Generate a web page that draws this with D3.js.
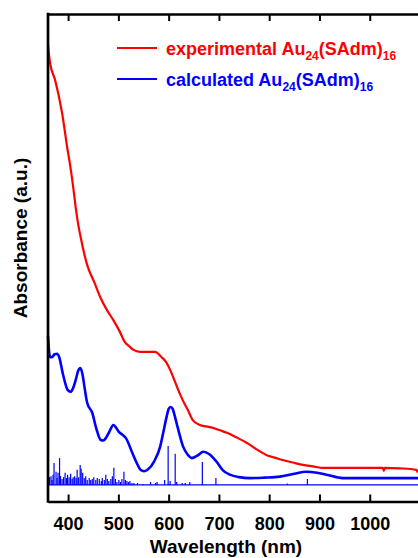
<!DOCTYPE html>
<html>
<head>
<meta charset="utf-8">
<script src="https://cdn.jsdelivr.net/npm/d3@7"></script>
<style>
  body { margin: 0; background: #fff; }
  svg { display: block; }
  text { font-family: "Liberation Sans", Arial, sans-serif; font-weight: bold; }
</style>
</head>
<body>
<svg id="chart"></svg>
<script>
// wavelength (nm) / absorbance (a.u.)
var expWl  = [360, 364, 374, 388, 399, 404, 410, 415, 420, 425, 438, 452, 464, 477, 490, 502, 513, 522, 530, 543, 560, 573, 586, 595, 603, 611, 619, 628, 638, 648, 662, 675, 688, 702, 716, 736, 756, 775, 795, 811, 827, 847, 867, 887, 907, 960, 1026, 1028, 1030, 1060, 1093, 1095, 1100];
var expAbs = [93.6, 90.0, 86.5, 79.7, 72.1, 69.0, 64.6, 60.4, 56.9, 54.2, 48.5, 45.0, 41.9, 39.3, 37.2, 35.0, 32.7, 31.8, 31.1, 30.7, 30.7, 30.7, 29.6, 28.6, 27.0, 25.0, 22.9, 20.8, 18.8, 16.7, 15.7, 15.4, 15.1, 14.6, 14.1, 13.1, 12.0, 10.7, 9.5, 9.0, 8.5, 8.0, 7.5, 7.2, 6.9, 6.9, 6.9, 6.3, 6.9, 6.8, 6.5, 6.1, 6.1];

var calcWl  = [360, 364, 369, 373, 378, 382, 390, 399, 405, 410, 415, 420, 424, 428, 433, 438, 448, 456, 465, 470, 475, 482, 490, 495, 501, 508, 515, 528, 537, 544, 551, 558, 571, 583, 589, 596, 600, 604, 608, 612, 616, 622, 629, 638, 646, 657, 669, 681, 695, 708, 722, 740, 761, 790, 821, 850, 874, 895, 914, 946, 1000, 1100];
var calcAbs = [34.0, 29.6, 29.7, 30.2, 30.3, 29.7, 26.0, 22.9, 22.5, 23.3, 24.9, 26.8, 27.4, 26.4, 23.2, 20.2, 18.2, 15.0, 12.6, 12.5, 13.0, 14.3, 15.7, 15.2, 14.3, 13.7, 13.0, 9.9, 7.8, 6.5, 6.2, 6.5, 8.2, 11.2, 14.0, 17.4, 19.0, 19.4, 19.0, 17.6, 16.0, 13.6, 11.2, 9.6, 8.9, 9.4, 10.2, 9.7, 8.2, 6.4, 5.5, 5.0, 4.8, 4.9, 5.1, 5.7, 6.1, 5.9, 5.5, 4.8, 4.8, 4.8];

// oscillator strength sticks, drawn on a baseline
var stickBase = 3.4;
var stickWl = [363, 366, 368, 370, 372, 376, 378, 380, 383, 385, 388, 391, 394, 397, 399, 402, 405, 408, 410, 413, 416, 418, 421, 424, 426, 429, 432, 435, 438, 442, 445, 448, 451, 455, 458, 462, 466, 468, 472, 475, 478, 481, 485, 488, 491, 494, 497, 501, 504, 507, 511, 514, 517, 520, 523, 527, 531, 538, 549, 564, 574, 577, 592, 599, 603, 613, 616, 627, 633, 642, 667, 694, 836, 876];
var stickH  = [1.6, 1.8, 1.0, 2.1, 4.5, 2.7, 1.4, 2.5, 5.5, 1.8, 1.2, 1.6, 2.5, 1.4, 2.1, 1.6, 2.3, 1.2, 1.6, 1.8, 1.4, 3.1, 1.6, 4.1, 3.3, 2.5, 1.4, 1.8, 1.0, 1.4, 1.0, 1.2, 1.6, 1.0, 1.4, 1.2, 0.8, 1.4, 1.0, 2.1, 1.2, 0.8, 1.2, 1.8, 3.5, 1.2, 0.6, 1.0, 0.6, 1.2, 2.7, 1.0, 0.8, 0.6, 0.8, 0.4, 0.4, 0.4, 0.2, 0.6, 0.4, 0.6, 1.0, 8.0, 0.8, 6.4, 0.6, 0.4, 0.4, 0.6, 4.7, 1.4, 0.3, 1.2];

var xTicks = [400, 500, 600, 700, 800, 900, 1000];
var legendNames = ["experimental", "calculated"];
var legendColors = ["#ff0000", "#0000ff"];

var W = 418, H = 558;
var svg = d3.select("#chart").attr("width", W).attr("height", H);

var x = d3.scaleLinear().domain([360, 1100]).range([48, 420]);
var y = d3.scaleLinear().domain([0, 100]).range([501.5, 14]);

var smooth = d3.line()
    .x(function(d) { return x(d[0]); })
    .y(function(d) { return y(d[1]); })
    .curve(d3.curveMonotoneX);

// sticks + baseline
svg.append("line")
    .attr("x1", x(360)).attr("x2", x(1100))
    .attr("y1", y(stickBase)).attr("y2", y(stickBase))
    .attr("stroke", "#0000ff").attr("stroke-width", 1.2);

svg.append("g").selectAll("line")
    .data(d3.zip(stickWl, stickH))
    .enter().append("line")
    .attr("x1", function(d) { return x(d[0]); })
    .attr("x2", function(d) { return x(d[0]); })
    .attr("y1", y(stickBase))
    .attr("y2", function(d) { return y(stickBase + d[1]); })
    .attr("stroke", "#0000ff")
    .attr("stroke-width", 1.2);

svg.append("path")
    .datum(d3.zip(calcWl, calcAbs))
    .attr("fill", "none")
    .attr("stroke", "#0000ff")
    .attr("stroke-width", 2.6)
    .attr("d", smooth);

svg.append("path")
    .datum(d3.zip(expWl, expAbs))
    .attr("fill", "none")
    .attr("stroke", "#ff0000")
    .attr("stroke-width", 2.2)
    .attr("stroke-linejoin", "round")
    .attr("d", smooth);

// axes (bottom + top, ticks pointing in)
var bottomAxis = svg.append("g")
    .attr("transform", "translate(0," + y(0) + ")")
    .call(d3.axisBottom(x).tickValues(xTicks).tickSizeInner(-7).tickSizeOuter(0).tickPadding(16).tickFormat(d3.format("d")));
var topAxis = svg.append("g")
    .attr("transform", "translate(0," + y(100) + ")")
    .call(d3.axisTop(x).tickValues(xTicks).tickSizeInner(-7).tickSizeOuter(0).tickFormat(""));

[bottomAxis, topAxis].forEach(function(g) {
    g.select(".domain").attr("stroke", "#000").attr("stroke-width", 2.7);
    g.selectAll(".tick line").attr("stroke", "#000").attr("stroke-width", 2);
});
bottomAxis.selectAll(".tick text")
    .attr("fill", "#000")
    .style("font-size", "18px")
    .style("font-family", "'Liberation Sans', Arial, sans-serif")
    .style("font-weight", "bold");

svg.append("line")
    .attr("x1", x(360)).attr("x2", x(360))
    .attr("y1", y(100) - 1.3).attr("y2", y(0) + 1.3)
    .attr("stroke", "#000").attr("stroke-width", 2.7);

// axis titles
svg.append("text")
    .attr("x", 226).attr("y", 553)
    .attr("text-anchor", "middle")
    .style("font-size", "19px")
    .text("Wavelength (nm)");

svg.append("text")
    .attr("transform", "translate(27,238) rotate(-90)")
    .attr("text-anchor", "middle")
    .style("font-size", "19px")
    .text("Absorbance (a.u.)");

// legend
var leg = svg.append("g").selectAll("g")
    .data(legendNames)
    .enter().append("g")
    .attr("transform", function(d, i) { return "translate(0," + (48 + i * 31) + ")"; });

leg.append("line")
    .attr("x1", 117).attr("x2", 157)
    .attr("stroke", function(d, i) { return legendColors[i]; })
    .attr("stroke-width", 2.2);

var lt = leg.append("text")
    .attr("x", 166).attr("y", 6.5)
    .attr("fill", function(d, i) { return legendColors[i]; })
    .style("font-size", "18px");
lt.append("tspan").text(function(d) { return d + " Au"; });
lt.append("tspan").attr("dy", 5).style("font-size", "12px").text("24");
lt.append("tspan").attr("dy", -5).text("(SAdm)");
lt.append("tspan").attr("dy", 5).style("font-size", "12px").text("16");
</script>
</body>
</html>
